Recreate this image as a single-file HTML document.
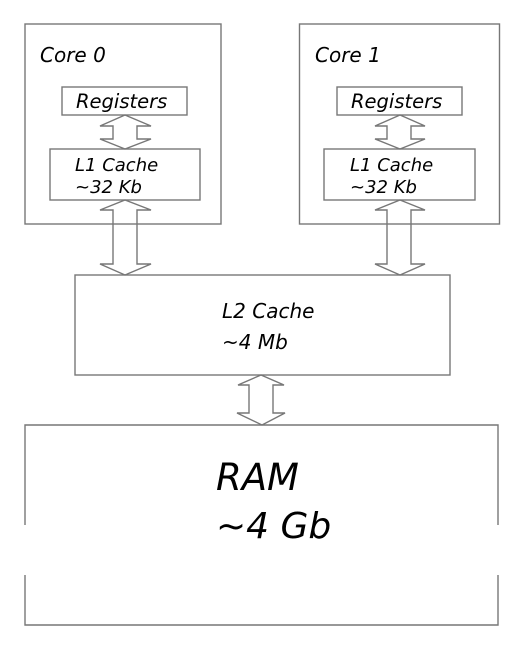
<!DOCTYPE html>
<html><head><style>
html,body{margin:0;padding:0;background:#fff;width:525px;height:650px;overflow:hidden}
svg text{font-family:"DejaVu Sans","Liberation Sans",sans-serif;font-style:italic;fill:#000}
</style></head><body>
<svg width="525" height="650" viewBox="0 0 525 650" xmlns="http://www.w3.org/2000/svg">
<g fill="none" stroke="#777" stroke-width="1.4">
<rect x="25" y="24" width="196" height="200"/>
<rect x="299.5" y="24" width="200" height="200"/>
<rect x="62" y="87" width="125" height="28"/>
<rect x="337" y="87" width="125" height="28"/>
<rect x="50" y="149" width="150" height="51"/>
<rect x="324" y="149" width="151" height="51"/>
<rect x="75" y="275" width="375" height="100"/>
<path d="M25 525 V425 H498 V525 M25 575 V625 H498 V575"/>
<path d="M125 115 L151 126 H137 V139 H151 L125 149 L100 139 H113 V126 H100 Z"/>
<path d="M400 115 L425 126 H411 V139 H425 L400 149 L375 139 H387 V126 H375 Z"/>
<path d="M125 200 L151 210 H137 V264 H151 L125 275 L100 264 H113 V210 H100 Z"/>
<path d="M400 200 L425 210 H411 V264 H425 L400 275 L375 264 H387 V210 H375 Z"/>
<path d="M261 375 L284 385 H273 V413 H285 L262 425 L237 413 H249 V385 H238 Z"/>
</g>
<text x="40" y="62" font-size="20">Core 0</text>
<text x="315" y="62" font-size="20">Core 1</text>
<text x="76" y="108" font-size="19.5">Registers</text>
<text x="351" y="108" font-size="19.5">Registers</text>
<text x="75" y="171" font-size="18">L1 Cache</text>
<text x="75" y="193" font-size="18">~32 Kb</text>
<text x="350" y="171" font-size="18">L1 Cache</text>
<text x="350" y="193" font-size="18">~32 Kb</text>
<text x="222" y="318" font-size="20">L2 Cache</text>
<text x="222" y="349" font-size="20">~4 Mb</text>
<text x="216" y="490" font-size="37">RAM</text>
<text x="216" y="538" font-size="36">~4 Gb</text>
</svg>
</body></html>
